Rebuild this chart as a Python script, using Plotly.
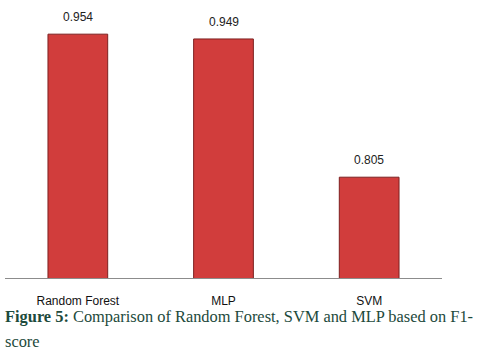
import plotly.graph_objects as go

categories = ["Random Forest", "MLP", "SVM"]
f1_scores = [0.954, 0.949, 0.805]
value_labels = ["0.954", "0.949", "0.805"]

fig = go.Figure()
fig.add_trace(go.Bar(
    x=categories, y=f1_scores, width=0.41,
    marker=dict(color="#d13d3c", line=dict(color="#7d2020", width=1)),
    hoverinfo="skip",
))

for c, v, t in zip(categories, f1_scores, value_labels):
    fig.add_annotation(x=c, y=v, text=t, showarrow=False, yanchor="middle",
                       yshift=17, font=dict(family="Liberation Sans", size=12, color="#222222"))

fig.add_annotation(xref="paper", yref="paper", x=-0.005, y=-0.142, xanchor="left", yanchor="middle",
                   showarrow=False, align="left",
                   text="<b>Figure 5:</b> Comparison of Random Forest, SVM and MLP based on F1-",
                   font=dict(family="Liberation Serif", size=16.4, color="#1d4a3c"))
fig.add_annotation(xref="paper", yref="paper", x=-0.005, y=-0.231, xanchor="left", yanchor="middle",
                   showarrow=False, align="left", text="score",
                   font=dict(family="Liberation Serif", size=16.4, color="#1d4a3c"))

fig.update_layout(
    width=485, height=353,
    margin=dict(l=5, r=43, t=5, b=75),
    paper_bgcolor="white", plot_bgcolor="white",
    showlegend=False,
    xaxis=dict(showline=True, linecolor="#8c8c8c", linewidth=1, ticks="", showgrid=False,
               tickfont=dict(family="Liberation Sans", size=12, color="#111111"),
               ticklabelstandoff=12),
    yaxis=dict(range=[0.7, 0.7 + 273 / 960], visible=False, showgrid=False),
)

fig.write_html("out.html")
